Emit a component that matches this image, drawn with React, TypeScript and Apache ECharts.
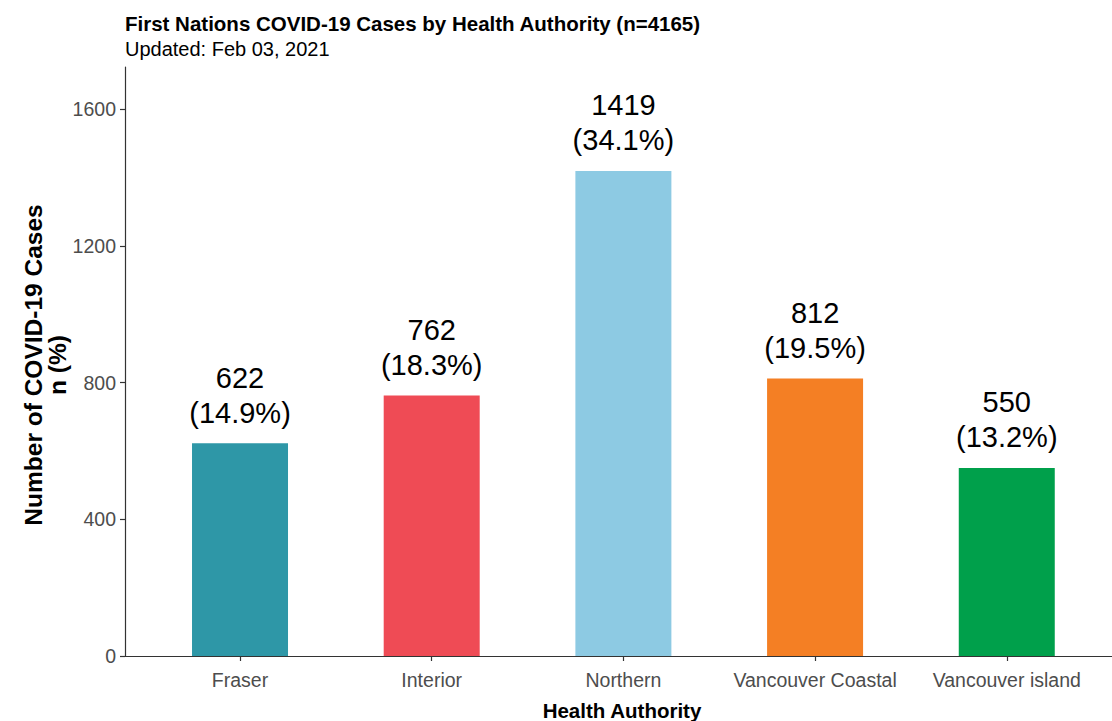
import React, { useEffect, useRef } from "react";
import * as echarts from "echarts";

const categories = ["Fraser", "Interior", "Northern", "Vancouver Coastal", "Vancouver island"];
const cases = [622, 762, 1419, 812, 550];
const percents = ["14.9%", "18.3%", "34.1%", "19.5%", "13.2%"];
const colors = ["#2E97A7", "#EF4B55", "#8DCAE3", "#F47F24", "#00A04B"];
const yTicks = [0, 400, 800, 1200, 1600];
const xPositions = [1, 2, 3, 4, 5];

const FONT = "Liberation Sans, Arial, Helvetica, sans-serif";

export default function App() {
  const ref = useRef<HTMLDivElement>(null);
  useEffect(() => {
    if (!ref.current) return;
    const chart = echarts.init(ref.current, undefined, { renderer: "svg" });
    chart.setOption({
      animation: false,
      backgroundColor: "#ffffff",
      textStyle: { fontFamily: FONT },
      grid: { left: 125, right: 0, top: 67, bottom: 65, containLabel: false },
      xAxis: {
        type: "value",
        min: 0.4,
        max: 5.549,
        splitLine: { show: false },
        axisLine: { show: true, lineStyle: { color: "#333333", width: 1.2 } },
        axisTick: { show: true, length: 5, customValues: xPositions, lineStyle: { color: "#333333", width: 1.2 } },
        axisLabel: {
          customValues: xPositions,
          formatter: (v: number) => categories[Math.round(v) - 1] ?? "",
          fontSize: 19.5,
          color: "#4D4D4D",
          fontFamily: FONT,
          margin: 14,
        },
      },
      yAxis: {
        type: "value",
        min: 0,
        max: 1723,
        splitLine: { show: false },
        axisLine: { show: true, lineStyle: { color: "#333333", width: 1.2 } },
        axisTick: { show: true, length: 5, customValues: yTicks, lineStyle: { color: "#333333", width: 1.2 } },
        axisLabel: {
          customValues: yTicks,
          formatter: (v: number) => String(v),
          fontSize: 19.5,
          color: "#4D4D4D",
          fontFamily: FONT,
          margin: 9,
        },
      },
      series: [
        {
          type: "bar",
          barWidth: 96,
          data: cases.map((v, i) => ({
            value: [xPositions[i], v],
            itemStyle: { color: colors[i] },
          })),
          label: {
            show: true,
            position: "top",
            distance: 13,
            fontSize: 29,
            lineHeight: 35,
            color: "#000000",
            fontFamily: FONT,
            align: "center",
            formatter: (p: any) => `${cases[p.dataIndex]}\n(${percents[p.dataIndex]})`,
          },
        },
      ],
      graphic: [
        {
          type: "text",
          x: 125,
          y: 23,
          style: {
            text: "First Nations COVID-19 Cases by Health Authority (n=4165)",
            fontSize: 20.5,
            fontWeight: "bold",
            fill: "#000000",
            fontFamily: FONT,
            verticalAlign: "middle",
          },
        },
        {
          type: "text",
          x: 125,
          y: 49,
          style: {
            text: "Updated: Feb 03, 2021",
            fontSize: 20,
            fill: "#000000",
            fontFamily: FONT,
            verticalAlign: "middle",
          },
        },
        {
          type: "text",
          x: 45,
          y: 365,
          rotation: Math.PI / 2,
          style: {
            text: "Number of COVID-19 Cases\nn (%)",
            fontSize: 24.5,
            lineHeight: 24,
            fontWeight: "bold",
            fill: "#000000",
            fontFamily: FONT,
            align: "center",
            verticalAlign: "middle",
          },
        },
        {
          type: "text",
          x: 622,
          y: 710,
          style: {
            text: "Health Authority",
            fontSize: 20.5,
            fontWeight: "bold",
            fill: "#000000",
            fontFamily: FONT,
            align: "center",
            verticalAlign: "middle",
          },
        },
      ],
    });
    return () => chart.dispose();
  }, []);
  return (
    <div
      ref={ref}
      style={{ position: "fixed", left: 0, top: 0, width: 1112, height: 721 }}
    />
  );
}
